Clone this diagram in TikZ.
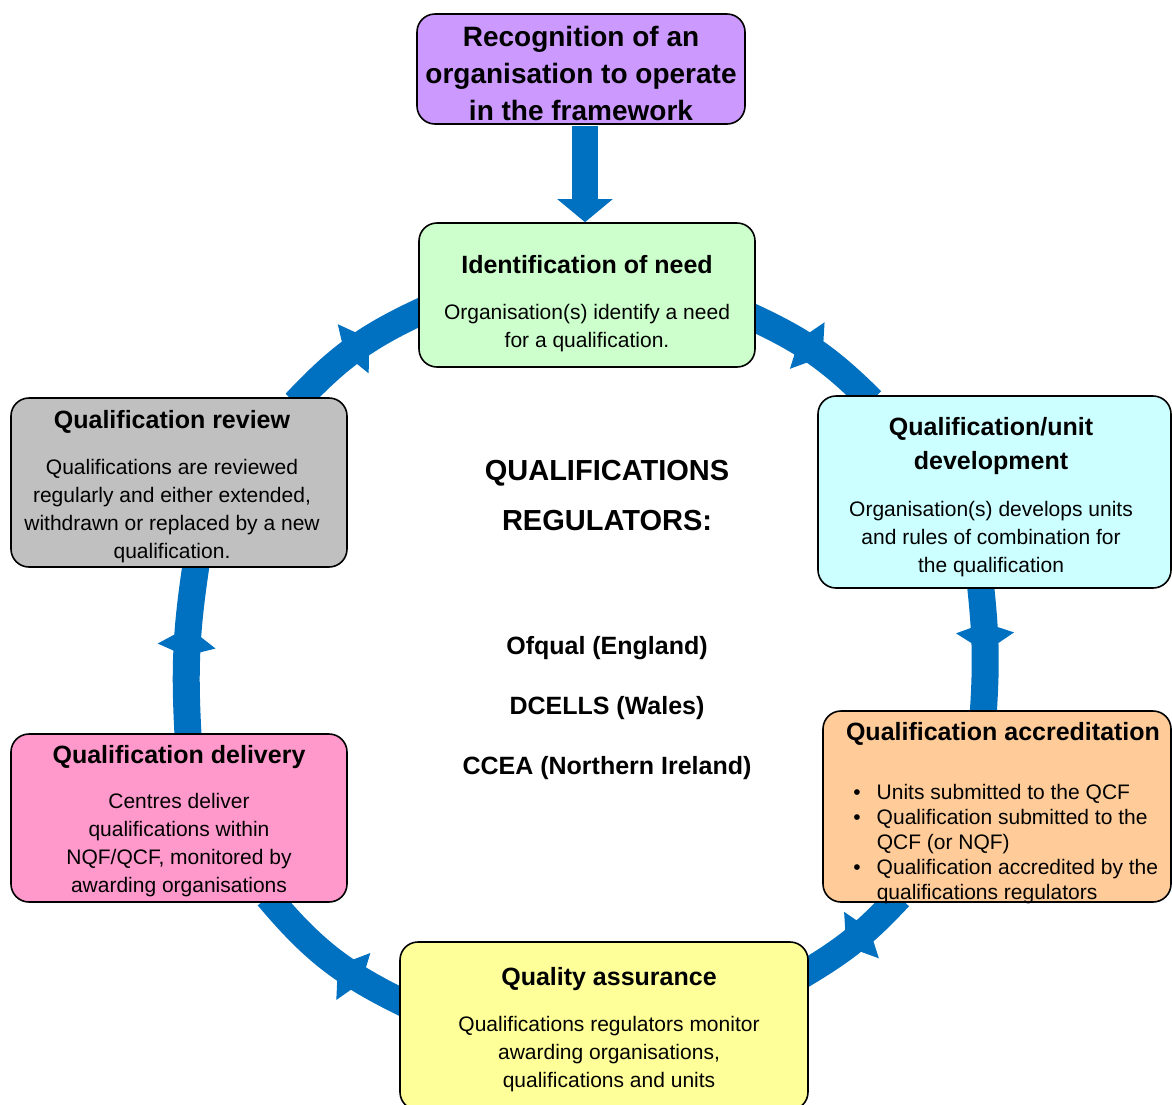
\documentclass[tikz,border=0pt]{standalone}
\usepackage{fontspec}
\setmainfont{Liberation Sans}
\usetikzlibrary{arrows.meta,positioning,backgrounds,decorations.markings}

\definecolor{ringblue}{HTML}{0070C0}
\definecolor{recogfill}{HTML}{CC99FF}
\definecolor{needfill}{HTML}{CCFFCC}
\definecolor{devfill}{HTML}{CCFFFF}
\definecolor{accrfill}{HTML}{FFCC99}
\definecolor{qafill}{HTML}{FFFF99}
\definecolor{delivfill}{HTML}{FF99CC}
\definecolor{reviewfill}{HTML}{C0C0C0}

\newcommand{\stagetitle}[1]{{\bfseries\fontsize{25}{28}\selectfont #1}}

\tikzset{
  stage/.style={draw=black, line width=1.6pt, rounded corners=18pt},
  stagetext/.style={align=center, inner sep=0pt, font=\fontsize{21}{28}\selectfont},
  ring/.style={color=ringblue, line width=27pt, shorten <=-8pt, shorten >=-8pt},
  midtip/.style={postaction={decorate}, decoration={markings,
      mark=at position #1 with {\arrow{Kite[length=29pt,width=58pt,inset=10pt]}}}},
}

\begin{document}
\begin{tikzpicture}[x=1pt, y=1pt]
  \useasboundingbox (0,0) rectangle (1172,-1104);

  % boxes
  \node[stage, fill=recogfill, minimum width=328pt, minimum height=110pt] (recog) at (581,-69) {};
  \node[stagetext, font=\fontsize{28}{37}\selectfont\bfseries, below=13pt of recog.north] (recog-text)
    {Recognition of an\\organisation to operate\\in the framework};

  \node[stage, fill=needfill, minimum width=336pt, minimum height=144pt] (need) at (587,-295) {};
  \node[stagetext, below=33pt of need.north] (need-text)
    {\stagetitle{Identification of need}\\[17.5pt]Organisation(s) identify a need\\for a qualification.};

  \node[stage, fill=devfill, minimum width=353pt, minimum height=192pt] (dev) at (994.5,-492) {};
  \node[stagetext, below=22pt of dev.north, xshift=-3.5pt] (dev-text)
    {\stagetitle{Qualification/unit}\\[6pt]\stagetitle{development}\\[18.5pt]Organisation(s) develops units\\and rules of combination for\\the qualification};

  \node[stage, fill=accrfill, minimum width=348pt, minimum height=191pt] (accr) at (997,-806.5) {};
  \node[stagetext, below=12pt of accr.north, xshift=6pt] (accr-text)
    {\stagetitle{Qualification accreditation}};
  \node[inner sep=0pt, font=\fontsize{21}{25}\selectfont, below right=71.5pt and 31pt of accr.north west] (accr-list)
    {\begin{tabular}{@{}l@{\hspace{16pt}}l@{}}
      \textbullet & Units submitted to the QCF\\
      \textbullet & Qualification submitted to the\\
                  & QCF (or NQF)\\
      \textbullet & Qualification accredited by the\\
                  & qualifications regulators
     \end{tabular}};

  \node[stage, fill=qafill, minimum width=408pt, minimum height=168pt] (qa) at (604,-1026) {};
  \node[stagetext, below=26pt of qa.north, xshift=5pt] (qa-text)
    {\stagetitle{Quality assurance}\\[17.5pt]Qualifications regulators monitor\\awarding organisations,\\qualifications and units};

  \node[stage, fill=delivfill, minimum width=336pt, minimum height=168pt] (deliv) at (179,-818) {};
  \node[stagetext, below=12pt of deliv.north] (deliv-text)
    {\stagetitle{Qualification delivery}\\[16.5pt]Centres deliver\\qualifications within\\NQF/QCF, monitored by\\awarding organisations};

  \node[stage, fill=reviewfill, minimum width=336pt, minimum height=169pt] (review) at (179,-482.5) {};
  \node[stagetext, below=13pt of review.north, xshift=-7pt] (review-text)
    {\stagetitle{Qualification review}\\[17.5pt]Qualifications are reviewed\\regularly and either extended,\\withdrawn or replaced by a new\\qualification.};

  % the cycle, behind the boxes
  \begin{scope}[on background layer]
    \draw[ring, midtip=0.62] (review.35) to[bend left=11] (need.186);
    \draw[ring, midtip=0.57] (need.-8) to[bend left=10] (dev.143);
    \draw[ring, midtip=0.52] (dev.-98.6) to[bend left=5] (accr.98);
    \draw[ring, midtip=0.59] (accr.223) to[bend left=8] (qa.15);
    \draw[ring, midtip=0.44] (qa.173) to[bend left=12] (deliv.-42);
    \draw[ring, midtip=0.64] (deliv.84) to[bend left=6] (review.-79);
  \end{scope}

  % entry arrow
  \draw[ringblue, line width=26pt, -{Triangle[width=54pt,length=23pt]}]
    ([xshift=4pt,yshift=-0.8pt]recog.south) -- ([xshift=4pt]recog.south |- need.north);

  % regulators in the middle
  \node[stagetext, anchor=north, font=\fontsize{29}{50}\selectfont\bfseries] (regs) at (607,-460)
    {QUALIFICATIONS\\REGULATORS:};
  \node[stagetext, anchor=north, font=\fontsize{25}{60}\selectfont\bfseries] (regs-list) at (607,-636)
    {Ofqual (England)\\DCELLS (Wales)\\CCEA (Northern Ireland)};
\end{tikzpicture}
\end{document}
